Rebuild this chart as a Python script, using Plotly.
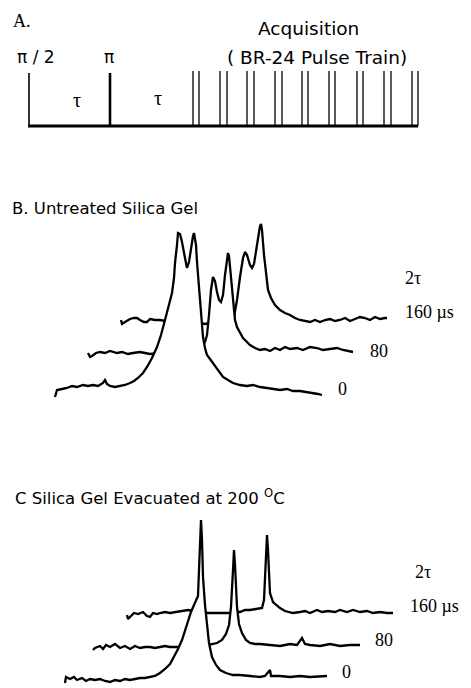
import plotly.graph_objects as go

# ---------------- DATA ----------------
# Panel A: pulse sequence (time in arbitrary units from the pi/2 pulse)
hard_pulse_times = [0, 81]            # pi/2 pulse, pi pulse
train_pulse_times = [164, 170, 191, 198, 218, 225, 246, 253, 273, 279,
                     300, 306, 328, 334, 355, 362, 383, 389]
sequence_end = 389

# Panel B: Untreated silica gel  (shift units, intensity units)
b0_x = [0, 2, 7, 12, 17, 22, 28, 33, 38, 43, 48, 50, 52, 55, 60, 65, 70, 75, 79, 83, 88, 92, 97, 102, 106,
        110, 114, 117, 119, 120, 122, 123, 125, 127, 130, 132, 134, 136, 138, 139, 141, 142, 144, 145, 147,
        148, 150, 152, 155, 158, 163, 168, 173, 178, 185, 192, 198, 205, 212, 218, 225, 232, 238, 245, 252,
        258, 263, 267]
b0_y = [3, 10, 11, 12, 14, 13, 15, 14, 15, 14, 17, 20, 16, 14, 13, 14, 15, 17, 19, 22, 27, 33, 42, 53, 65,
        80, 95, 107, 122, 137, 155, 167, 166, 158, 142, 132, 138, 152, 164, 167, 155, 138, 115, 97, 75,
        63, 52, 45, 41, 37, 30, 23, 20, 17, 15, 14, 15, 13, 12, 11, 10, 11, 9, 9, 8,
        7, 6, 5]
b80_x = [0, 2, 4, 8, 12, 17, 22, 29, 34, 40, 45, 52, 57, 62, 72, 82, 92, 102, 109, 114, 117, 119, 121, 123,
         125, 127, 129, 131, 133, 135, 137, 139, 140, 141, 143, 145, 147, 149, 152, 155, 159, 162, 167, 172,
         177, 182, 187, 192, 197, 202, 209, 215, 222, 229, 235, 242, 249, 255, 260, 265]
b80_y = [10, 6, 7, 10, 11, 10, 12, 10, 11, 9, 10, 11, 10, 9, 10, 11, 12, 13, 15, 18, 21, 28, 48, 73,
         86, 82, 71, 63, 61, 68, 88, 106, 110, 107, 83, 58, 43, 36, 30, 25, 21, 18, 15, 13,
         14, 12, 15, 13, 16, 14, 15, 13, 16, 15, 13, 14, 15, 13, 12, 11]
b160_x = [0, 1, 4, 9, 13, 16, 19, 23, 26, 29, 34, 39, 44, 49, 59, 69, 79, 84, 89, 94, 99, 104, 109, 113,
          116, 119, 122, 124, 126, 129, 131, 133, 135, 137, 139, 140, 141, 143, 145, 147, 150, 154, 159,
          164, 169, 174, 179, 184, 189, 194, 199, 204, 209, 214, 219, 224, 229, 234, 239, 244, 249, 254,
          259, 264, 266]
b160_y = [10, 6, 8, 11, 12, 12, 10, 8, 8, 11, 10, 10, 9, 10, 10, 9, 7, 6, 7, 8, 8, 9, 10, 13,
          30, 53, 72, 78, 75, 65, 62, 66, 78, 93, 104, 106, 100, 75, 55, 40, 32, 25, 20,
          17, 15, 12, 10, 9, 8, 10, 8, 10, 11, 9, 10, 12, 9, 11, 13, 12, 10, 13,
          11, 12, 12]

# Panel C: Silica gel evacuated at 200 C
c0_x = [0, 1, 5, 9, 12, 17, 21, 25, 30, 35, 40, 45, 50, 55, 60, 65, 70, 75, 80, 85, 90, 95, 100, 105, 109,
        113, 117, 120, 123, 126, 129, 131, 133, 134, 135, 136, 137, 138, 140, 142, 144, 147, 151, 155, 161,
        168, 175, 185, 195, 200, 205, 206, 215, 225, 235, 245, 255, 262]
c0_y = [7, 13, 11, 13, 10, 12, 9, 11, 10, 11, 9, 8, 10, 9, 11, 10, 11, 12, 12, 13, 14, 17, 21, 26, 33,
        41, 50, 60, 70, 78, 85, 89, 94, 120, 155, 170, 150, 113, 85, 63, 47, 33, 25, 20, 17,
        15, 15, 14, 13, 14, 20, 14, 14, 13, 14, 13, 14, 14]
c80_x = [-5, -3, 2, 5, 8, 12, 17, 22, 27, 32, 37, 42, 47, 52, 57, 62, 67, 72, 79, 87, 97, 105, 110, 115,
         119, 124, 128, 131, 133, 135, 136, 137, 139, 141, 144, 148, 152, 157, 162, 172, 182, 192, 199,
         204, 207, 212, 222, 232, 242, 252, 262]
c80_y = [7, 9, 11, 8, 12, 10, 13, 9, 11, 8, 11, 9, 10, 10, 9, 10, 11, 10, 10, 10, 11, 11, 12, 13,
         14, 17, 23, 32, 50, 87, 107, 92, 50, 33, 24, 17, 14, 13, 13, 12, 11, 13, 12,
         19, 13, 12, 11, 13, 11, 12, 12]
c160_x = [-4, -3, -1, 3, 7, 12, 16, 19, 22, 26, 29, 34, 39, 46, 52, 57, 64, 69, 77, 84, 91, 97, 101, 105,
          109, 114, 119, 125, 131, 133, 135, 136, 137, 139, 142, 146, 149, 154, 162, 169, 174, 179, 186,
          191, 197, 204, 209, 216, 222, 229, 236, 242, 249, 256, 262]
c160_y = [8, 4, 6, 10, 9, 11, 7, 6, 10, 9, 10, 11, 10, 11, 12, 13, 12, 11, 10, 10, 10, 10, 10, 11,
          11, 13, 13, 14, 15, 23, 63, 88, 73, 30, 21, 17, 15, 12, 10, 11, 12, 10, 13,
          11, 12, 11, 13, 11, 13, 11, 12, 10, 11, 10, 10]

delay_labels = ["0", "80", "160 \u00b5s"]

# ---------------- LAYOUT CONSTANTS ----------------
W, H = 471, 688
PAGE_MARGIN = 8          # default body margin of the html page
A_X0, A_BASE = 29, 562
HARD_H, TRAIN_H = 53, 55
B_X0, B_Y0 = 55, 288
C_X0, C_Y0 = 65, -2
B_DX, B_DY = [0, 33, 66], [0, 37, 70]
C_DX, C_DY = [0, 33, 66], [0, 33, 67]
LINE_W = 2.3

fig = go.Figure()


def add_spectrum(xs, ys, x0, y0):
    X = [x + x0 for x in xs]
    Y = [y + y0 for y in ys]
    floor = y0 - 4
    fig.add_trace(go.Scatter(x=X + [X[-1], X[0]], y=Y + [floor, floor], fill="toself",
                             fillcolor="white", mode="none", hoverinfo="skip", showlegend=False))
    fig.add_trace(go.Scatter(x=X, y=Y, mode="lines", line=dict(color="black", width=LINE_W),
                             hoverinfo="skip", showlegend=False))


# Panel A: baseline
fig.add_trace(go.Scatter(x=[A_X0 - 1, A_X0 + sequence_end], y=[A_BASE, A_BASE], mode="lines",
                         line=dict(color="black", width=3), showlegend=False, hoverinfo="skip"))
# hard pulses
fig.add_trace(go.Scatter(x=[A_X0 + hard_pulse_times[0]] * 2, y=[A_BASE, A_BASE + HARD_H], mode="lines",
                         line=dict(color="black", width=1.6), showlegend=False, hoverinfo="skip"))
fig.add_trace(go.Scatter(x=[A_X0 + hard_pulse_times[1]] * 2, y=[A_BASE, A_BASE + HARD_H], mode="lines",
                         line=dict(color="black", width=2.6), showlegend=False, hoverinfo="skip"))
# pulse train
tx, ty = [], []
for t in train_pulse_times:
    tx += [A_X0 + t, A_X0 + t, None]
    ty += [A_BASE, A_BASE + TRAIN_H, None]
fig.add_trace(go.Scatter(x=tx, y=ty, mode="lines", line=dict(color="black", width=1.3),
                         showlegend=False, hoverinfo="skip"))

# Panel B spectra, back to front
b_sets = [(b0_x, b0_y), (b80_x, b80_y), (b160_x, b160_y)]
for k in [2, 1, 0]:
    add_spectrum(b_sets[k][0], b_sets[k][1], B_X0 + B_DX[k], B_Y0 + B_DY[k])

c_sets = [(c0_x, c0_y), (c80_x, c80_y), (c160_x, c160_y)]
for k in [2, 1, 0]:
    add_spectrum(c_sets[k][0], c_sets[k][1], C_X0 + C_DX[k], C_Y0 + C_DY[k])

SANS = "DejaVu Sans"
SERIF = "Liberation Serif"


def txt(x, y, s, size, family, anchor="center"):
    fig.add_annotation(x=x, y=y, text=s, showarrow=False, xanchor=anchor, yanchor="middle",
                       font=dict(family=family, size=size, color="black"))


# Panel A labels
txt(11, H - 21, "A.", 18, SERIF, "left")
txt(36, H - 57, "\u03c0 / 2", 17, SANS)
txt(109, H - 57, "\u03c0", 17, SANS)
txt(77, H - 100, "\u03c4", 20, SERIF)
txt(158, H - 98, "\u03c4", 20, SERIF)
txt(308, H - 28, "Acquisition", 18.5, SANS)
txt(317, H - 57, "( BR-24 Pulse Train)", 18.5, SANS)

# Panel titles
txt(10, H - 208, "B. Untreated Silica Gel", 16.5, SANS, "left")
txt(13, H - 497, "C Silica Gel Evacuated at 200 <sup>O</sup>C", 16.5, SANS, "left")

# Right-hand delay labels
txt(403, H - 278, "2\u03c4", 18, SERIF, "left")
txt(403, H - 312, delay_labels[2], 18, SERIF, "left")
txt(368, H - 351, delay_labels[1], 18, SERIF, "left")
txt(336, H - 389, delay_labels[0], 18, SERIF, "left")

txt(413, H - 572, "2\u03c4", 18, SERIF, "left")
txt(408, H - 606, delay_labels[2], 18, SERIF, "left")
txt(373, H - 640, delay_labels[1], 18, SERIF, "left")
txt(340, H - 672, delay_labels[0], 18, SERIF, "left")

# The page adds a body margin; size and ranges compensate so data land on window pixels.
fig.update_xaxes(range=[PAGE_MARGIN, W], visible=False, fixedrange=True)
fig.update_yaxes(range=[0, H - PAGE_MARGIN], visible=False, fixedrange=True)
fig.update_layout(width=W - PAGE_MARGIN, height=H - PAGE_MARGIN, margin=dict(l=0, r=0, t=0, b=0),
                  paper_bgcolor="white", plot_bgcolor="white", showlegend=False)

fig.write_html("out.html", config={"displayModeBar": False})
